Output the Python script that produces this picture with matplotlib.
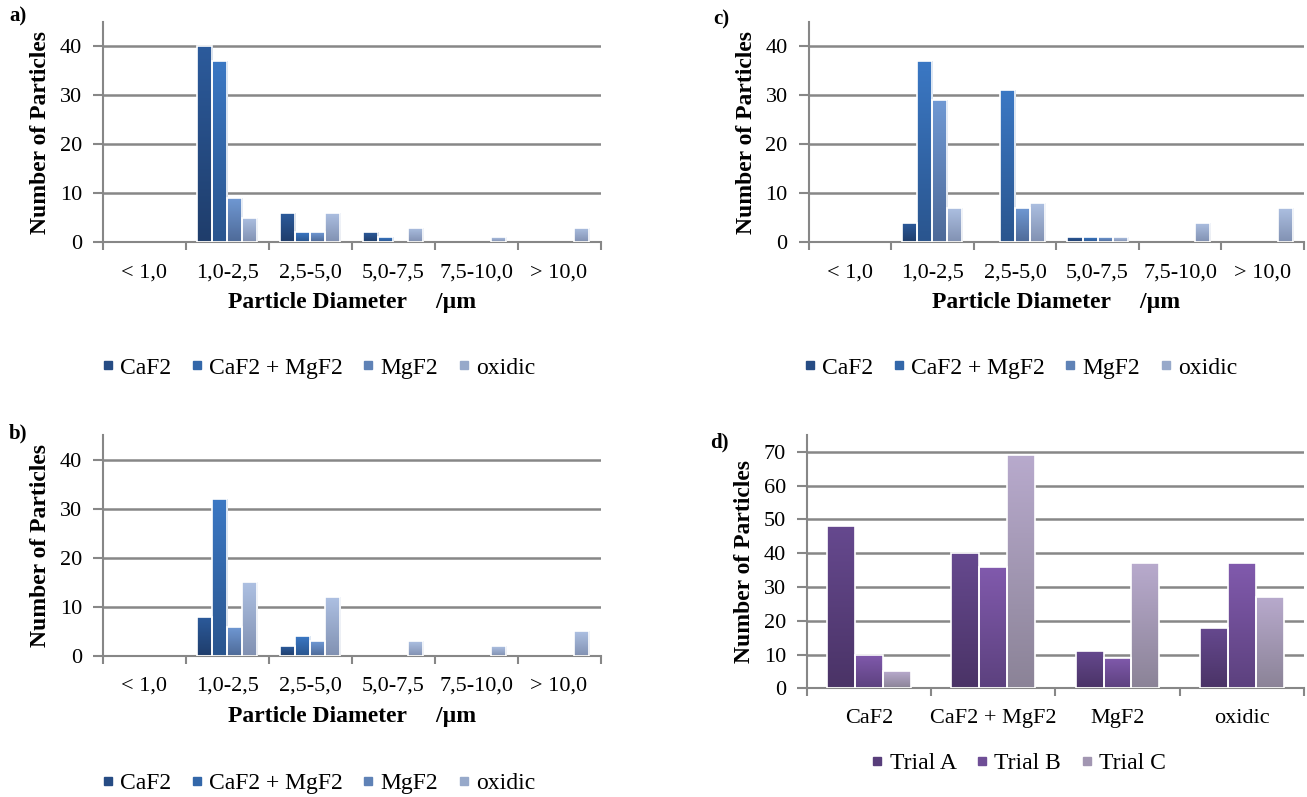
import numpy as np
import matplotlib
matplotlib.use("Agg")
import matplotlib.pyplot as plt
from matplotlib.colors import LinearSegmentedColormap, to_rgb
from matplotlib.lines import Line2D

plt.rcParams['font.family'] = ['Liberation Serif', 'DejaVu Serif']

# size classes (um) for panels a-c
size_classes = ['< 1,0', '1,0-2,5', '2,5-5,0', '5,0-7,5', '7,5-10,0', '> 10,0']
phase_names = ['CaF2', 'CaF2 + MgF2', 'MgF2', 'oxidic']

# panel a)
a_caf2 = [0, 40, 6, 2, 0, 0]
a_camg = [0, 37, 2, 1, 0, 0]
a_mgf2 = [0, 9, 2, 0, 0, 0]
a_oxid = [0, 5, 6, 3, 1, 3]

# panel b)
b_caf2 = [0, 8, 2, 0, 0, 0]
b_camg = [0, 32, 4, 0, 0, 0]
b_mgf2 = [0, 6, 3, 0, 0, 0]
b_oxid = [0, 15, 12, 3, 2, 5]

# panel c)
c_caf2 = [0, 4, 0, 1, 0, 0]
c_camg = [0, 37, 31, 1, 0, 0]
c_mgf2 = [0, 29, 7, 1, 0, 0]
c_oxid = [0, 7, 8, 1, 4, 7]

# panel d) totals per phase
trial_names = ['Trial A', 'Trial B', 'Trial C']
trial_a = [48, 40, 11, 18]
trial_b = [10, 36, 9, 37]
trial_c = [5, 69, 37, 27]

# (top, bottom) gradient colours
blue_cols = [('#2c5b9c', '#1f3d6b'), ('#3b78c4', '#2a558e'),
             ('#7099d4', '#4e6a98'), ('#adc0e2', '#8191b2')]
purple_cols = [('#66498f', '#4a3366'), ('#815aad', '#5c417e'),
               ('#b8aacd', '#8b8397')]

GRID = '#878787'
TICK_FS = 16
LAB_FS = 17
LEG_FS = 17
W, H = 1307, 797


def mid(cols):
    a, b = np.array(to_rgb(cols[0])), np.array(to_rgb(cols[1]))
    return tuple((a + b) / 2)


def grad_bars(ax, x, vals, width, cols):
    bars = ax.bar(x, vals, width, facecolor='none', edgecolor='white',
                  linewidth=1.2, zorder=3)
    cmap = LinearSegmentedColormap.from_list('g', [cols[1], cols[0]])
    grad = np.linspace(0, 1, 128).reshape(-1, 1)
    for b in bars:
        h = b.get_height()
        if h <= 0:
            b.set_visible(False)
            continue
        x0 = b.get_x()
        im = ax.imshow(grad, cmap=cmap, origin='lower', aspect='auto',
                       extent=[x0, x0 + b.get_width(), 0, h], zorder=2)
        im.set_clip_path(b)
    return bars


def style_axes(ax, ncat, cats, ymax, ystep):
    ax.set_xlim(-0.5, ncat - 0.5)
    ax.set_ylim(0, ymax)
    ax.set_yticks(np.arange(0, ymax + 1, ystep))
    ax.set_xticks(np.arange(ncat))
    ax.set_xticklabels(cats, fontsize=TICK_FS)
    ax.set_xticks(np.arange(ncat + 1) - 0.5, minor=True)
    ax.tick_params(axis='x', which='major', length=0, pad=15)
    ax.tick_params(axis='x', which='minor', length=6, width=1.5, color=GRID)
    ax.tick_params(axis='y', length=7, width=1.5, color=GRID, pad=8,
                   labelsize=TICK_FS)
    ax.yaxis.grid(True, color=GRID, linewidth=1.8)
    ax.set_axisbelow(True)
    for s in ['top', 'right']:
        ax.spines[s].set_visible(False)
    for s in ['left', 'bottom']:
        ax.spines[s].set_color(GRID)
        ax.spines[s].set_linewidth(1.5)
    ax.set_ylabel('Number of Particles', fontsize=LAB_FS, fontweight='bold',
                  labelpad=6)


def size_panel(ax, series):
    x = np.arange(len(size_classes))
    w = 0.182
    for i, (vals, cols) in enumerate(zip(series, blue_cols)):
        grad_bars(ax, x + (i - 1.5) * w, vals, w, cols)
    style_axes(ax, len(size_classes), size_classes, 45, 10)
    ax.set_xlabel('Particle Diameter     /\u00b5m', fontsize=LAB_FS,
                  fontweight='bold', labelpad=7)


def add_legend(fig, names, cols, cx, cy):
    handles = [Line2D([], [], linestyle='none', marker='s', markersize=5.5,
                      markerfacecolor=mid(c), markeredgecolor=mid(c)) for c in cols]
    fig.legend(handles, names, loc='center', bbox_to_anchor=(cx / W, 1 - cy / H),
               ncol=len(names), frameon=False, fontsize=LEG_FS,
               handlelength=0.45, handletextpad=0.3, columnspacing=0.85)


fig = plt.figure(figsize=(13.07, 7.97), dpi=100)

ax_a = fig.add_axes([102.7 / W, 1 - 242.3 / H, 497.8 / W, 220.6 / H])
ax_c = fig.add_axes([808.5 / W, 1 - 242.3 / H, 495.5 / W, 220.6 / H])
ax_b = fig.add_axes([102.7 / W, 1 - 656 / H, 497.8 / W, 221 / H])
ax_d = fig.add_axes([806.7 / W, 1 - 688.3 / H, 497.3 / W, 253.3 / H])

size_panel(ax_a, [a_caf2, a_camg, a_mgf2, a_oxid])
size_panel(ax_b, [b_caf2, b_camg, b_mgf2, b_oxid])
size_panel(ax_c, [c_caf2, c_camg, c_mgf2, c_oxid])

xd = np.arange(len(phase_names))
wd = 0.224
for i, (vals, cols) in enumerate(zip([trial_a, trial_b, trial_c], purple_cols)):
    grad_bars(ax_d, xd + (i - 1) * wd, vals, wd, cols)
style_axes(ax_d, len(phase_names), phase_names, 75, 10)

add_legend(fig, phase_names, blue_cols, 319, 368)
add_legend(fig, phase_names, blue_cols, 1021, 368)
add_legend(fig, phase_names, blue_cols, 319, 783)
add_legend(fig, trial_names, purple_cols, 1019, 763)

for lab, px, py in [('a)', 18, 16), ('c)', 721, 19), ('b)', 18, 433), ('d)', 719, 442)]:
    fig.text(px / W, 1 - py / H, lab, fontsize=15, fontweight='bold',
             ha='center', va='center')

fig.savefig('out.png', dpi=100)
